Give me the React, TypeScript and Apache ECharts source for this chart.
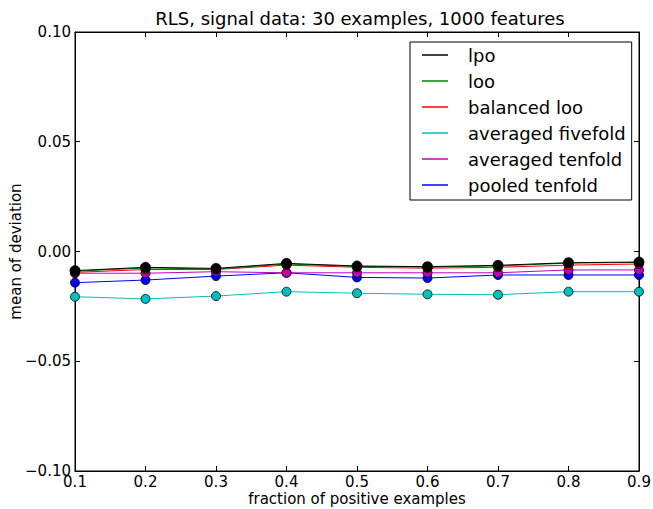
import React, { useEffect, useRef } from "react";
import * as echarts from "echarts";

const xValues = [0.1, 0.2, 0.3, 0.4, 0.5, 0.6, 0.7, 0.8, 0.9];
const seriesNames = ["lpo", "loo", "balanced loo", "averaged fivefold", "averaged tenfold", "pooled tenfold"];
const seriesColors = ["#000000", "#008000", "#ff0000", "#00bfbf", "#bf00bf", "#0000ff"];
const lpo = [-0.0087, -0.0072, -0.0077, -0.0054, -0.0066, -0.0069, -0.0063, -0.0051, -0.0048];
const loo = [-0.009, -0.0075, -0.008, -0.0057, -0.0068, -0.0071, -0.0066, -0.0053, -0.005];
const balancedLoo = [-0.0095, -0.0082, -0.0082, -0.0062, -0.0072, -0.0076, -0.0072, -0.0062, -0.0057];
const averagedFivefold = [-0.0206, -0.0216, -0.0203, -0.0183, -0.019, -0.0195, -0.0197, -0.0183, -0.0183];
const averagedTenfold = [-0.0099, -0.0099, -0.0092, -0.0097, -0.0097, -0.0097, -0.0097, -0.0084, -0.0084];
const pooledTenfold = [-0.0142, -0.013, -0.0112, -0.0097, -0.0118, -0.0121, -0.0107, -0.0107, -0.0107];
const seriesValues = [lpo, loo, balancedLoo, averagedFivefold, averagedTenfold, pooledTenfold];

const FONT = "DejaVu Sans";

export default function App() {
  const ref = useRef<HTMLDivElement>(null);
  useEffect(() => {
    if (!ref.current) return;
    const chart = echarts.init(ref.current, undefined, { renderer: "svg" });
    const axisCommon = {
      type: "value" as const,
      axisLine: { show: true, onZero: false, lineStyle: { color: "#000", width: 1 } },
      splitLine: { show: false },
    };
    const tick = { show: true, inside: true, length: 5, lineStyle: { color: "#000" } };
    const series = seriesNames
      .map((name, i) => ({
        name,
        type: "line" as const,
        data: xValues.map((x, j) => [x, seriesValues[i][j]]),
        symbol: "circle",
        symbolSize: i === 0 ? 10 : 9,
        lineStyle: { color: seriesColors[i], width: 1 },
        itemStyle: { color: seriesColors[i], borderColor: "#000", borderWidth: 0.8 },
        z: 10 - i,
      }))
      .reverse();
    chart.setOption({
      animation: false,
      backgroundColor: "#ffffff",
      title: {
        text: "RLS, signal data: 30 examples, 1000 features",
        left: 355,
        textAlign: "center",
        top: 4,
        textStyle: { fontFamily: FONT, fontSize: 18, fontWeight: "normal", color: "#000" },
      },
      graphic: [
        {
          type: "text",
          x: 357,
          y: 499,
          style: {
            text: "fraction of positive examples",
            font: `15px "${FONT}"`,
            fill: "#000",
            align: "center",
            verticalAlign: "middle",
          },
        },
      ],
      grid: {
        left: 75,
        right: 14,
        top: 32,
        bottom: 38,
        show: true,
        borderColor: "#000",
        borderWidth: 1,
        outerBoundsMode: "none",
        containLabel: false,
      },
      legend: {
        data: seriesNames.map((n) => ({ name: n, icon: "rect" })),
        orient: "vertical",
        left: 410,
        top: 42,
        padding: [0, 6, 2, 12],
        itemGap: 0,
        itemWidth: 26,
        itemHeight: 1.5,
        itemStyle: { borderWidth: 0 },
        textStyle: { fontFamily: FONT, fontSize: 18, color: "#000", lineHeight: 26, padding: [0, 0, 0, 15] },
        borderColor: "#000",
        borderWidth: 1,
        backgroundColor: "#fff",
      },
      xAxis: [
        {
          ...axisCommon,
          min: 0.1,
          max: 0.9,
          interval: 0.1,
          axisTick: tick,
          axisLabel: {
            fontFamily: FONT,
            fontSize: 15,
            lineHeight: 15,
            color: "#000",
            margin: 3,
            formatter: (v: number) => v.toFixed(1),
          },
        },
        {
          ...axisCommon,
          position: "top",
          min: 0.1,
          max: 0.9,
          interval: 0.1,
          axisTick: tick,
          axisLabel: { show: false },
        },
      ],
      yAxis: [
        {
          ...axisCommon,
          min: -0.1,
          max: 0.1,
          interval: 0.05,
          name: "mean of deviation",
          nameLocation: "middle",
          nameGap: 52,
          nameMoveOverlap: false,
          nameTextStyle: { fontFamily: FONT, fontSize: 15, color: "#000" },
          axisTick: tick,
          axisLabel: {
            fontFamily: FONT,
            fontSize: 15,
            color: "#000",
            margin: 4,
            formatter: (v: number) => {
              const s = Math.abs(v).toFixed(2);
              return v < -1e-9 ? "\u2212" + s : s;
            },
          },
        },
        {
          ...axisCommon,
          position: "right",
          min: -0.1,
          max: 0.1,
          interval: 0.05,
          axisTick: tick,
          axisLabel: { show: false },
        },
      ],
      series,
    });
    return () => chart.dispose();
  }, []);
  return <div ref={ref} style={{ position: "fixed", left: 0, top: 0, width: 653, height: 509 }} />;
}
